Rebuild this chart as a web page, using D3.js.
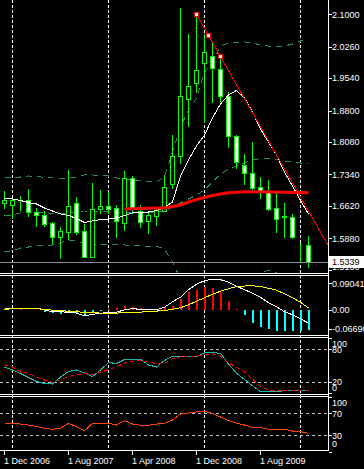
<!DOCTYPE html>
<html lang="en">
<head>
<meta charset="UTF-8">
<title>Monthly chart</title>
<style>
  body { margin: 0; background: #000; }
  svg { display: block; }
  text { font-family: "Liberation Sans", Arial, sans-serif; font-size: 9px; fill: #fff; }
</style>
<script src="https://d3js.org/d3.v7.min.js"></script>
</head>
<body>
<svg width="364" height="469"></svg>
<script>
var months = ["Dec 2006",
  "Jan 2007","Feb 2007","Mar 2007","Apr 2007","May 2007","Jun 2007","Jul 2007","Aug 2007","Sep 2007","Oct 2007","Nov 2007","Dec 2007",
  "Jan 2008","Feb 2008","Mar 2008","Apr 2008","May 2008","Jun 2008","Jul 2008","Aug 2008","Sep 2008","Oct 2008","Nov 2008","Dec 2008",
  "Jan 2009","Feb 2009","Mar 2009","Apr 2009","May 2009","Jun 2009","Jul 2009","Aug 2009","Sep 2009","Oct 2009","Nov 2009","Dec 2009",
  "Jan 2010","Feb 2010"];

var open  = [1.6687,1.6634,1.6726,1.6762,1.6488,1.6413,1.6230,1.5917,1.6031,1.6687,1.6047,1.5460,1.6543,1.6611,1.6566,1.6237,1.7251,1.6511,1.6269,1.6397,1.6511,1.7114,1.7754,1.9057,1.9423,1.9880,2.0040,1.9743,1.9139,1.8211,1.7549,1.7366,1.7046,1.6954,1.6566,1.6380,1.6360,1.5635,1.5720];
var high  = [1.6961,1.6790,1.6847,1.7007,1.6579,1.6511,1.6253,1.6138,1.7441,1.6824,1.6207,1.7144,1.6984,1.6938,1.6634,1.7425,1.7297,1.6634,1.6465,1.6595,1.7320,1.8234,2.1137,2.0550,2.1000,2.0550,2.0360,2.0040,1.9231,1.8248,1.7807,1.8081,1.7281,1.7213,1.6909,1.6680,1.6435,1.5766,1.5933];
var low   = [1.6579,1.6344,1.6527,1.6397,1.6168,1.6154,1.5743,1.5437,1.5864,1.5985,1.5450,1.5450,1.6451,1.6447,1.5903,1.6077,1.6465,1.6145,1.6008,1.6177,1.6500,1.7037,1.7594,1.8447,1.9231,1.8545,1.8989,1.9018,1.7974,1.7480,1.7114,1.6945,1.6808,1.6520,1.6031,1.5917,1.5894,1.5368,1.5231];
var close = [1.6749,1.6755,1.6744,1.6474,1.6406,1.6214,1.5917,1.6040,1.6611,1.6031,1.5460,1.6543,1.6611,1.6560,1.6269,1.7251,1.6543,1.6246,1.6406,1.6520,1.7046,1.7754,1.9139,1.9354,1.9720,2.0131,1.9784,1.9139,1.8211,1.7617,1.7366,1.7023,1.6954,1.6557,1.6314,1.6370,1.5917,1.5625,1.5339];

// white moving average, thick red moving average
var maFast = [1.6790,1.6779,1.6744,1.6698,1.6664,1.6573,1.6504,1.6436,1.6401,1.6333,1.6241,1.6276,1.6310,1.6321,1.6344,1.6401,1.6459,1.6470,1.6481,1.6516,1.6584,1.6710,1.7304,1.7670,1.7990,1.8241,1.8630,1.8950,1.9156,1.9259,1.9087,1.8767,1.8378,1.8081,1.7784,1.7395,1.7076,1.6744,1.6436];
var maSlow = [null,null,null,null,null,null,null,null,null,null,null,null,null,null,null,
  1.6550,1.6555,1.6561,1.6568,1.6573,1.6573,1.6607,1.6641,1.6710,1.6767,1.6813,1.6858,1.6893,1.6920,1.6934,1.6943,1.6945,1.6945,1.6941,1.6936,1.6932,1.6927,1.6925,1.6922];

// bands (dashed green)
var bandUpper = [1.7259,1.7259,1.7281,1.7304,1.7293,1.7270,1.7259,1.7252,1.7252,1.7281,1.7327,1.7327,1.7316,1.7304,1.7259,1.7224,1.7213,1.7190,1.7167,1.7167,1.7281,1.7853,1.8424,1.8813,1.9087,1.9681,1.9887,2.0275,2.0344,2.0356,2.0367,2.0344,2.0298,2.0275,2.0275,2.0275,2.0321,2.0390,2.0436];
var bandMid   = [1.6401,1.6413,1.6459,1.6470,1.6470,1.6459,1.6447,1.6436,1.6459,1.6481,1.6504,1.6504,1.6493,1.6481,1.6481,1.6481,1.6481,1.6481,1.6481,1.6481,1.6493,1.6596,1.6687,1.6779,1.6870,1.6984,1.7167,1.7350,1.7464,1.7533,1.7601,1.7670,1.7704,1.7709,1.7681,1.7647,1.7624,1.7601,1.7578];
var bandLower = [1.5567,1.5590,1.5658,1.5681,1.5704,1.5716,1.5727,1.5773,1.5841,1.5818,1.5750,1.5727,1.5727,1.5727,1.5727,1.5727,1.5716,1.5704,1.5704,1.5704,1.5636,1.5339,1.4950,1.4745,1.4653,1.4287,1.4447,1.4425,1.4584,1.4710,1.4835,1.4996,1.5110,1.5143,1.5087,1.5019,1.4927,1.4812,1.4720];

// trendline drawn through two highs
var trendIdx = [24, 27];
var trendPrice = [2.1000, 2.0040];

var macdMain   = [0.0052,0.0052,0.0052,0.0052,0.0045,-0.0007,-0.0076,-0.0076,-0.0093,-0.0121,-0.0214,-0.0162,-0.0128,-0.0100,-0.0093,-0.0007,0.0028,0.0010,-0.0007,-0.0007,0.0079,0.0269,0.0424,0.0683,0.0872,0.0993,0.1045,0.1028,0.0941,0.0803,0.0683,0.0562,0.0424,0.0234,0.0097,-0.0076,-0.0179,-0.0317,-0.0466];
var macdSignal = [-0.0007,0.0045,0.0052,0.0052,0.0045,-0.0007,-0.0017,-0.0034,-0.0059,-0.0076,-0.0093,-0.0110,-0.0121,-0.0121,-0.0121,-0.0110,-0.0093,-0.0086,-0.0076,-0.0052,-0.0034,0.0010,0.0062,0.0166,0.0286,0.0407,0.0528,0.0631,0.0717,0.0786,0.0810,0.0821,0.0793,0.0734,0.0666,0.0545,0.0407,0.0252,0.0052];
var macdHist   = [0.0028,0,0.0028,0,-0.0017,-0.0076,-0.0121,-0.0155,-0.0121,-0.0121,-0.0179,-0.0121,-0.0041,0.0028,0.0045,0.0131,0.0086,0.0052,0.0028,0.0028,0.0072,0.0131,0.0362,0.0590,0.0659,0.0776,0.0741,0.0590,0.0279,0.0017,-0.0203,-0.0466,-0.0583,-0.0672,-0.0755,-0.0755,-0.0755,-0.0755,-0.0697];
var macdTicks  = [0.09041, 0, -0.0669];

var stochK = [47.5,42.0,35.6,28.3,20.9,17.2,16.3,29.2,39.3,42.0,36.5,30.1,42.0,55.8,53.9,61.3,61.7,61.7,51.2,47.5,59.4,67.7,67.7,66.8,66.8,73.2,73.8,72.7,53.0,36.0,24.6,13.2,2.2,2.2,2.2,4.0,4.0,4.0,4.0];
var stochD = [51.2,47.5,38.3,36.0,29.2,23.7,19.1,23.7,30.1,32.8,35.6,33.8,38.3,42.0,48.1,54.3,58.5,59.1,57.2,53.0,54.3,63.1,65.9,66.8,67.7,69.5,71.4,67.7,54.9,47.5,38.3,25.5,11.4,5.3,3.5,4.4,5.3,5.3,5.3];
var stochLevels = [80, 20];
var stochTicks = [100, 80, 20, 0];

var rsi = [50.5,51.8,50.5,48.7,46.0,42.7,40.9,42.7,51.8,45.6,38.4,51.8,51.8,51.8,48.7,56.5,50.5,48.2,48.2,50.5,51.8,57.8,68.7,70.5,72.4,73.3,70.0,63.3,56.9,51.8,48.7,44.5,44.5,40.9,40.9,40.9,37.8,36.5,33.6];
var rsiLevels = [70, 30];
var rsiTicks = [100, 70, 30, 0];

var priceTicks = [2.1000, 2.0260, 1.9540, 1.8800, 1.8080, 1.7340, 1.6620, 1.5880, 1.5160];
var dateLabels = ["Dec 2006", "Aug 2007", "Apr 2008", "Dec 2008", "Aug 2009"];
var yearGrid = ["Jan 2007", "Jan 2008", "Jan 2009", "Jan 2010"];
var lastPrice = 1.5339;

var svg = d3.select("svg");
var right = 328.5;
var bottom = 450.5;

var panels = {
  main:  [0, 273.5],
  macd:  [275.5, 335.5],
  stoch: [337.5, 394.5],
  rsi:   [396.5, 450.5]
};

var x = d3.scaleLinear().domain([0, months.length - 1]).range([4, 4 + 8 * (months.length - 1)]);
var xm = function(m) { return x(months.indexOf(m)); };

var yMain  = d3.scaleLinear().domain([1.516, 2.1]).range([269.8, 14.3]);
var yMacd  = d3.scaleLinear().domain([-0.0669, 0.09041]).range([329, 283.3]);
var yStoch = d3.scaleLinear().domain([0, 100]).range([392.9, 338.4]);
var yRsi   = d3.scaleLinear().domain([0, 100]).range([451.8, 396.8]);

var defs = svg.append("defs");
Object.keys(panels).forEach(function(k) {
  defs.append("clipPath").attr("id", "clip-" + k)
    .append("rect").attr("x", 0).attr("y", panels[k][0] + 0.5)
    .attr("width", right).attr("height", panels[k][1] - panels[k][0] - 1);
});

// yearly vertical grid
svg.append("g").selectAll("line").data(yearGrid).enter().append("line")
  .attr("x1", function(d) { return xm(d) + 0.5; })
  .attr("x2", function(d) { return xm(d) + 0.5; })
  .attr("y1", 0).attr("y2", bottom)
  .attr("stroke", "#fff").attr("stroke-dasharray", "3,2")
  .attr("shape-rendering", "crispEdges");

// ---------- main panel ----------
var gMain = svg.append("g").attr("clip-path", "url(#clip-main)");
var idx = d3.range(months.length);

function priceLine(arr) {
  return d3.line()
    .defined(function(i) { return arr[i] != null; })
    .x(function(i) { return x(i) + 0.5; })
    .y(function(i) { return yMain(arr[i]); })(idx);
}

[bandUpper, bandMid, bandLower].forEach(function(arr) {
  gMain.append("path").attr("d", priceLine(arr))
    .attr("fill", "none").attr("stroke", "#2e8b57")
    .attr("stroke-dasharray", "6,5").attr("shape-rendering", "crispEdges");
});

var candle = gMain.append("g").selectAll("g").data(idx).enter().append("g");
candle.append("line")
  .attr("x1", function(i) { return x(i) + 0.5; })
  .attr("x2", function(i) { return x(i) + 0.5; })
  .attr("y1", function(i) { return Math.round(yMain(high[i])); })
  .attr("y2", function(i) { return Math.round(yMain(low[i])) + 1; })
  .attr("stroke", "#00ff00").attr("shape-rendering", "crispEdges");
candle.append("rect")
  .attr("x", function(i) { return x(i) - 1.5; })
  .attr("width", 4)
  .attr("y", function(i) { return Math.round(yMain(Math.max(open[i], close[i]))) + 0.5; })
  .attr("height", function(i) {
    return Math.max(0, Math.round(yMain(Math.min(open[i], close[i]))) - Math.round(yMain(Math.max(open[i], close[i]))));
  })
  .attr("fill", function(i) { return close[i] >= open[i] ? "#000" : "#fff"; })
  .attr("stroke", "#00ff00").attr("shape-rendering", "crispEdges");

gMain.append("path").attr("d", priceLine(maFast))
  .attr("fill", "none").attr("stroke", "#fff").attr("shape-rendering", "crispEdges");
gMain.append("path").attr("d", priceLine(maSlow))
  .attr("fill", "none").attr("stroke", "#ff0000").attr("stroke-width", 3);

// trendline ray
var slope = (trendPrice[1] - trendPrice[0]) / (trendIdx[1] - trendIdx[0]);
var iEnd = x.invert(right);
gMain.append("line")
  .attr("x1", x(trendIdx[0]) + 0.5).attr("y1", yMain(trendPrice[0]))
  .attr("x2", x(iEnd)).attr("y2", yMain(trendPrice[0] + slope * (iEnd - trendIdx[0])))
  .attr("stroke", "#ff0000").attr("shape-rendering", "crispEdges");
var markIdx = [trendIdx[0], (trendIdx[0] + trendIdx[1]) / 2, trendIdx[1]];
gMain.selectAll(".mark").data(markIdx).enter().append("rect")
  .attr("x", function(i) { return x(i) - 2 + 0.5; })
  .attr("y", function(i) { return Math.round(yMain(trendPrice[0] + slope * (i - trendIdx[0]))) - 2 + 0.5; })
  .attr("width", 4).attr("height", 4)
  .attr("fill", "#fff").attr("stroke", "#ff0000").attr("shape-rendering", "crispEdges");

// bid line
gMain.append("line")
  .attr("x1", 0).attr("x2", right)
  .attr("y1", Math.round(yMain(lastPrice)) + 0.5).attr("y2", Math.round(yMain(lastPrice)) + 0.5)
  .attr("stroke", "#8a8f96").attr("shape-rendering", "crispEdges");

// ---------- MACD ----------
var gMacd = svg.append("g").attr("clip-path", "url(#clip-macd)");
gMacd.selectAll("rect").data(idx).enter().append("rect")
  .attr("x", function(i) { return x(i); })
  .attr("width", 2)
  .attr("y", function(i) { return Math.min(yMacd(0), yMacd(macdHist[i])); })
  .attr("height", function(i) { return Math.abs(yMacd(macdHist[i]) - yMacd(0)); })
  .attr("fill", function(i) { return macdHist[i] >= 0 ? "#ff0000" : "#00ffff"; })
  .attr("shape-rendering", "crispEdges");
[[macdMain, "#fff"], [macdSignal, "#ffff00"]].forEach(function(s) {
  gMacd.append("path")
    .attr("d", d3.line().x(function(i) { return x(i) + 0.5; }).y(function(i) { return yMacd(s[0][i]); })(idx))
    .attr("fill", "none").attr("stroke", s[1]).attr("shape-rendering", "crispEdges");
});

// ---------- Stochastic ----------
var gSto = svg.append("g").attr("clip-path", "url(#clip-stoch)");
gSto.selectAll("line").data(stochLevels).enter().append("line")
  .attr("x1", 0).attr("x2", right)
  .attr("y1", function(d) { return Math.round(yStoch(d)) + 0.5; })
  .attr("y2", function(d) { return Math.round(yStoch(d)) + 0.5; })
  .attr("stroke", "#c0c0c0").attr("stroke-dasharray", "3,3").attr("shape-rendering", "crispEdges");
gSto.append("path")
  .attr("d", d3.line().x(function(i) { return x(i) + 0.5; }).y(function(i) { return yStoch(stochK[i]); })(idx))
  .attr("fill", "none").attr("stroke", "#20b2aa").attr("shape-rendering", "crispEdges");
gSto.append("path")
  .attr("d", d3.line().x(function(i) { return x(i) + 0.5; }).y(function(i) { return yStoch(stochD[i]); })(idx))
  .attr("fill", "none").attr("stroke", "#ff0000").attr("stroke-dasharray", "4,3").attr("shape-rendering", "crispEdges");

// ---------- RSI ----------
var gRsi = svg.append("g").attr("clip-path", "url(#clip-rsi)");
gRsi.selectAll("line").data(rsiLevels).enter().append("line")
  .attr("x1", 0).attr("x2", right)
  .attr("y1", function(d) { return Math.round(yRsi(d)) + 0.5; })
  .attr("y2", function(d) { return Math.round(yRsi(d)) + 0.5; })
  .attr("stroke", "#c0c0c0").attr("stroke-dasharray", "3,3").attr("shape-rendering", "crispEdges");
gRsi.append("path")
  .attr("d", d3.line().x(function(i) { return x(i) + 0.5; }).y(function(i) { return yRsi(rsi[i]); })(idx))
  .attr("fill", "none").attr("stroke", "#ff4500").attr("shape-rendering", "crispEdges");

// ---------- frames ----------
var frame = svg.append("g").attr("stroke", "#fff").attr("shape-rendering", "crispEdges");
[273.5, 275.5, 335.5, 337.5, 394.5, 396.5, 450.5].forEach(function(y) {
  frame.append("line").attr("x1", 0).attr("x2", right + 0.5).attr("y1", y).attr("y2", y);
});
frame.append("line").attr("x1", right).attr("x2", right).attr("y1", 0).attr("y2", bottom);

// ---------- right axis labels ----------
function clampLabel(y, p) { return Math.max(panels[p][0] + 6.5, Math.min(panels[p][1] - 6.5, y)); }
var axisG = svg.append("g");
function addLabels(ticks, scale, fmt, p) {
  ticks.forEach(function(t) {
    var y = clampLabel(scale(t), p);
    axisG.append("line").attr("x1", right).attr("x2", right + 3)
      .attr("y1", Math.round(scale(t)) + 0.5).attr("y2", Math.round(scale(t)) + 0.5)
      .attr("stroke", "#fff").attr("shape-rendering", "crispEdges");
    axisG.append("text").attr("x", 332).attr("y", y + 3.3).text(fmt(t));
  });
}
addLabels(priceTicks, yMain, d3.format(".4f"), "main");
addLabels(macdTicks, yMacd, function(v) { return v === 0 ? "0.00" : (v > 0 ? "0.09041" : "-0.06690"); }, "macd");
addLabels(stochTicks, yStoch, String, "stoch");
addLabels(rsiTicks, yRsi, String, "rsi");

// bid price label
var by = yMain(lastPrice);
axisG.append("rect").attr("x", 329.5).attr("y", Math.round(by) - 5.5)
  .attr("width", 35).attr("height", 11).attr("fill", "#fff")
  .attr("stroke", "#fff").attr("shape-rendering", "crispEdges");
axisG.append("text").attr("x", 332).attr("y", by + 3.3).style("fill", "#000").text(lastPrice.toFixed(4));

// ---------- date axis ----------
var dateG = svg.append("g");
dateLabels.forEach(function(m) {
  var xx = xm(m);
  dateG.append("line").attr("x1", xx + 0.5).attr("x2", xx + 0.5)
    .attr("y1", bottom).attr("y2", bottom + 4)
    .attr("stroke", "#fff").attr("shape-rendering", "crispEdges");
  dateG.append("text").attr("x", xx).attr("y", 463.5).text("1 " + m);
});
</script>
</body>
</html>
